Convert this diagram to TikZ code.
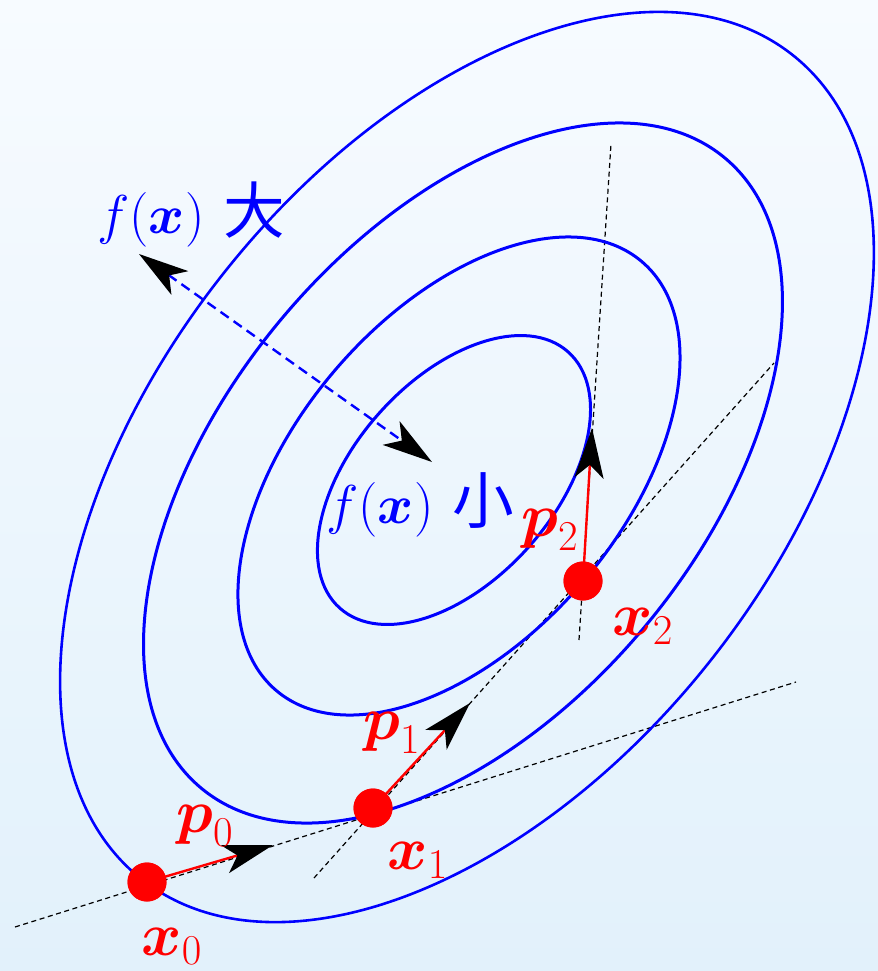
\documentclass[tikz,border=0pt]{standalone}
\usepackage{amsmath}
\usepackage{fontspec}
\newfontfamily\cjk{Noto Sans CJK SC}
\usetikzlibrary{arrows.meta}
\definecolor{bgtop}{RGB}{247,251,255}
\definecolor{bgbot}{RGB}{226,241,251}
\begin{document}
\begin{tikzpicture}[x=0.5pt,y=-0.5pt,
  ell/.style={draw=blue, line width=1.5pt},
  tline/.style={draw=black, line width=0.6pt, dash pattern=on 2.5pt off 1.8pt},
  dotnode/.style={circle, fill=red, draw=none, minimum size=19.5pt, inner sep=0pt},
  parrow/.style={draw=red, line width=1.2pt, -{Stealth[length=25pt,width=14.5pt,inset=6.5pt,black]}},
  dasharrow/.style={draw=blue, line width=1.2pt, dash pattern=on 5pt off 3pt,
     {Stealth[length=25pt,width=14.5pt,inset=6.5pt,black]}-{Stealth[length=25pt,width=14.5pt,inset=6.5pt,black]}},
  redlab/.style={text=red, inner sep=0pt, scale=1.23, font=\fontsize{27}{32}\selectfont},
  bluelab/.style={text=blue, inner sep=0pt, scale=1.1, font=\fontsize{28}{34}\selectfont}
]
\useasboundingbox (0,0) rectangle (878,971);
\shade[top color=bgtop, bottom color=bgbot] (0,0) rectangle (878,971);
\clip (0,0) rectangle (878,971);

% tangent / search lines
\coordinate (a1) at (15,927);
\coordinate (a2) at (796,682);
\coordinate (b1) at (314,878);
\coordinate (b2) at (774,363);
\coordinate (c1) at (579,640);
\coordinate (c2) at (611,144);
\draw[tline] (a1) -- (a2);
\draw[tline] (b1) -- (b2);
\draw[tline] (c1) -- (c2);

% level sets
\coordinate (e1c) at (454,480);
\coordinate (e2c) at (459,476);
\coordinate (e3c) at (463,473);
\coordinate (e4c) at (467,467);
\draw[ell, rotate around={48.3:(e1c)}] (e1c) ellipse [x radius=85.8pt, y radius=50.15pt];
\draw[ell, rotate around={49.5:(e2c)}] (e2c) ellipse [x radius=140.9pt, y radius=81.5pt];
\draw[ell, rotate around={50.3:(e3c)}] (e3c) ellipse [x radius=204.85pt, y radius=119.05pt];
\draw[ell, line width=1.3pt, rotate around={51.7:(e4c)}] (e4c) ellipse [x radius=262.6pt, y radius=155.55pt];

% f(x) direction arrow
\coordinate (u1) at (139,254);
\coordinate (u2) at (432,462);
\draw[dasharrow] (u1) -- (u2);
\node[bluelab] (fbig) at (191,214) {$f(\boldsymbol{x})$ {\cjk 大}};
\node[bluelab] (fsmall) at (420,505) {$f(\boldsymbol{x})$ {\cjk 小}};

% iterates
\node[dotnode] (x0) at (147,882) {};
\node[dotnode] (x1) at (373,808) {};
\node[dotnode] (x2) at (583,581) {};
\coordinate (p0tip) at (273,845);
\coordinate (p1tip) at (470,703);
\coordinate (p2tip) at (592,428);
\draw[parrow] (x0.center) -- (p0tip);
\draw[parrow] (x1.center) -- (p1tip);
\draw[parrow] (x2.center) -- (p2tip);
\node[dotnode] at (x0) {};
\node[dotnode] at (x1) {};
\node[dotnode] at (x2) {};

\node[redlab] (lx0) at (172,946) {$\boldsymbol{x}_0$};
\node[redlab] (lx1) at (418,860) {$\boldsymbol{x}_1$};
\node[redlab] (lx2) at (643,626) {$\boldsymbol{x}_2$};
\node[redlab] (lp0) at (205,826) {$\boldsymbol{p}_0$};
\node[redlab] (lp1) at (392,733) {$\boldsymbol{p}_1$};
\node[redlab] (lp2) at (550,530) {$\boldsymbol{p}_2$};
\end{tikzpicture}
\end{document}
